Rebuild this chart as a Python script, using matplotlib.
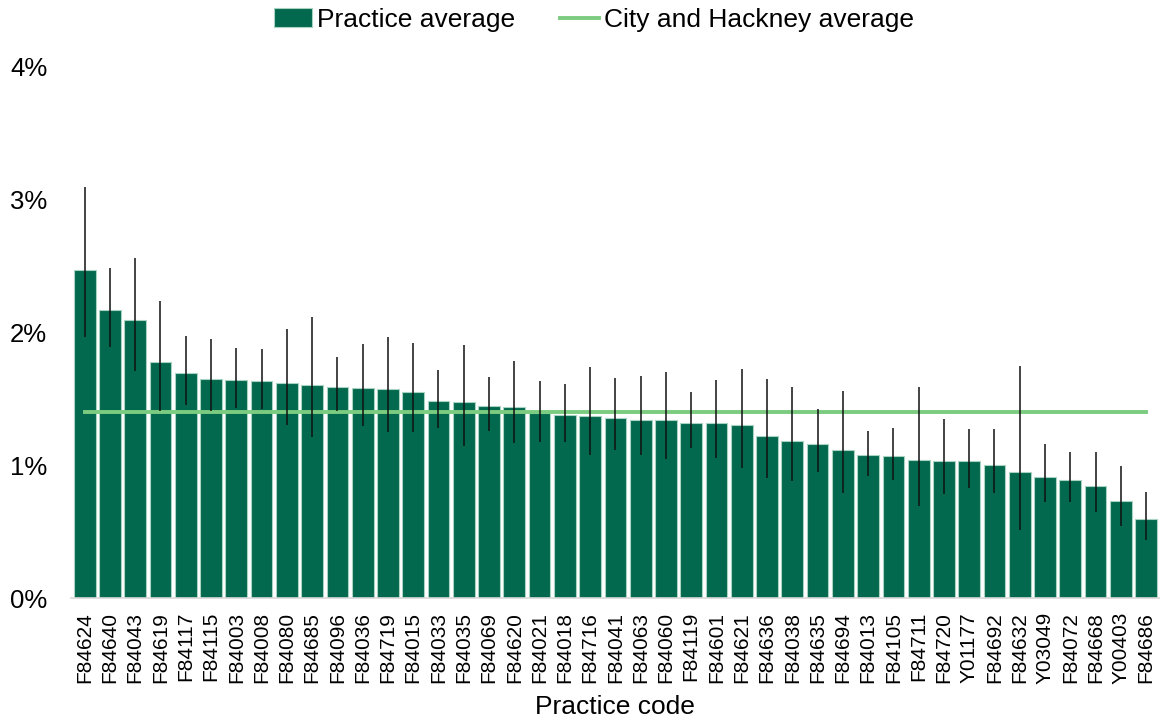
import matplotlib
matplotlib.use("Agg")
import matplotlib.pyplot as plt
import numpy as np
from matplotlib.ticker import FuncFormatter

plt.rcParams['font.family'] = ['Liberation Sans', 'DejaVu Sans']

# practice rates (%) with lower / upper confidence limits
codes = ["F84624", "F84640", "F84043", "F84619", "F84117", "F84115", "F84003", "F84008",
         "F84080", "F84685", "F84096", "F84036", "F84719", "F84015", "F84033", "F84035",
         "F84069", "F84620", "F84021", "F84018", "F84716", "F84041", "F84063", "F84060",
         "F84119", "F84601", "F84621", "F84636", "F84038", "F84635", "F84694", "F84013",
         "F84105", "F84711", "F84720", "Y01177", "F84692", "F84632", "Y03049", "F84072",
         "F84668", "Y00403", "F84686"]
practice_avg = [2.47, 2.165, 2.09, 1.774, 1.69, 1.65, 1.637, 1.63, 1.62, 1.60,
                1.585, 1.577, 1.569, 1.549, 1.48, 1.474, 1.446, 1.438, 1.39, 1.376,
                1.368, 1.356, 1.336, 1.336, 1.32, 1.313, 1.30, 1.218, 1.178, 1.155,
                1.115, 1.073, 1.065, 1.04, 1.03, 1.03, 1.0, 0.945, 0.913, 0.885,
                0.845, 0.727, 0.596]
ci_lower = [1.96, 1.89, 1.71, 1.41, 1.45, 1.41, 1.43, 1.42, 1.30, 1.21,
            1.41, 1.296, 1.248, 1.248, 1.28, 1.145, 1.26, 1.163, 1.17, 1.17,
            1.075, 1.113, 1.075, 1.047, 1.13, 1.055, 0.98, 0.90, 0.88, 0.945,
            0.79, 0.92, 0.89, 0.69, 0.785, 0.827, 0.79, 0.51, 0.725, 0.725,
            0.645, 0.54, 0.44]
ci_upper = [3.09, 2.48, 2.556, 2.233, 1.97, 1.945, 1.877, 1.87, 2.02, 2.11,
            1.81, 1.91, 1.965, 1.92, 1.712, 1.90, 1.66, 1.78, 1.63, 1.61,
            1.735, 1.652, 1.667, 1.70, 1.547, 1.637, 1.72, 1.65, 1.585, 1.42,
            1.56, 1.26, 1.28, 1.585, 1.345, 1.275, 1.275, 1.745, 1.16, 1.095,
            1.095, 0.995, 0.80]
city_avg = 1.4

x = np.arange(len(codes))
vals = np.array(practice_avg)
yerr = [vals - np.array(ci_lower), np.array(ci_upper) - vals]

fig = plt.figure(figsize=(11.6, 7.18), dpi=100)
ax = fig.add_axes([0.061, 0.167, 0.939, 0.741])

bars = ax.bar(x, vals, width=0.86, color='#02694E', edgecolor='#a9d3c1', linewidth=0.8,
              label='Practice average', zorder=2)
ax.errorbar(x, vals, yerr=yerr, fmt='none', ecolor='#111111', elinewidth=1.1,
            capsize=0, zorder=4)
avg_line, = ax.plot([x[0], x[-1]], [city_avg, city_avg], color='#7BCC80', linewidth=2.8,
                    label='City and Hackney average', zorder=3)

ax.set_xlim(-0.55, len(codes) - 0.45)
ax.set_ylim(0, 4)
ax.set_yticks([0, 1, 2, 3, 4])
ax.yaxis.set_major_formatter(FuncFormatter(lambda v, p: f"{v:.0f}%"))
ax.set_xticks(x)
ax.set_xticklabels(codes, rotation=90, fontsize=15)
ax.tick_params(axis='y', length=0, labelsize=18.5, pad=17)
ax.tick_params(axis='x', length=0, pad=10)

for s in ['top', 'right', 'left']:
    ax.spines[s].set_visible(False)
ax.spines['bottom'].set_color('#d9d9d9')
ax.spines['bottom'].set_linewidth(1.2)

ax.set_xlabel('Practice code', fontsize=19, labelpad=8)

fig.legend([bars, avg_line], ['Practice average', 'City and Hackney average'],
           loc='upper center', bbox_to_anchor=(0.512, 1.022), ncol=2, frameon=False,
           fontsize=19, handlelength=1.45, handletextpad=0.2, columnspacing=1.7)

fig.savefig('out.png', dpi=100)
